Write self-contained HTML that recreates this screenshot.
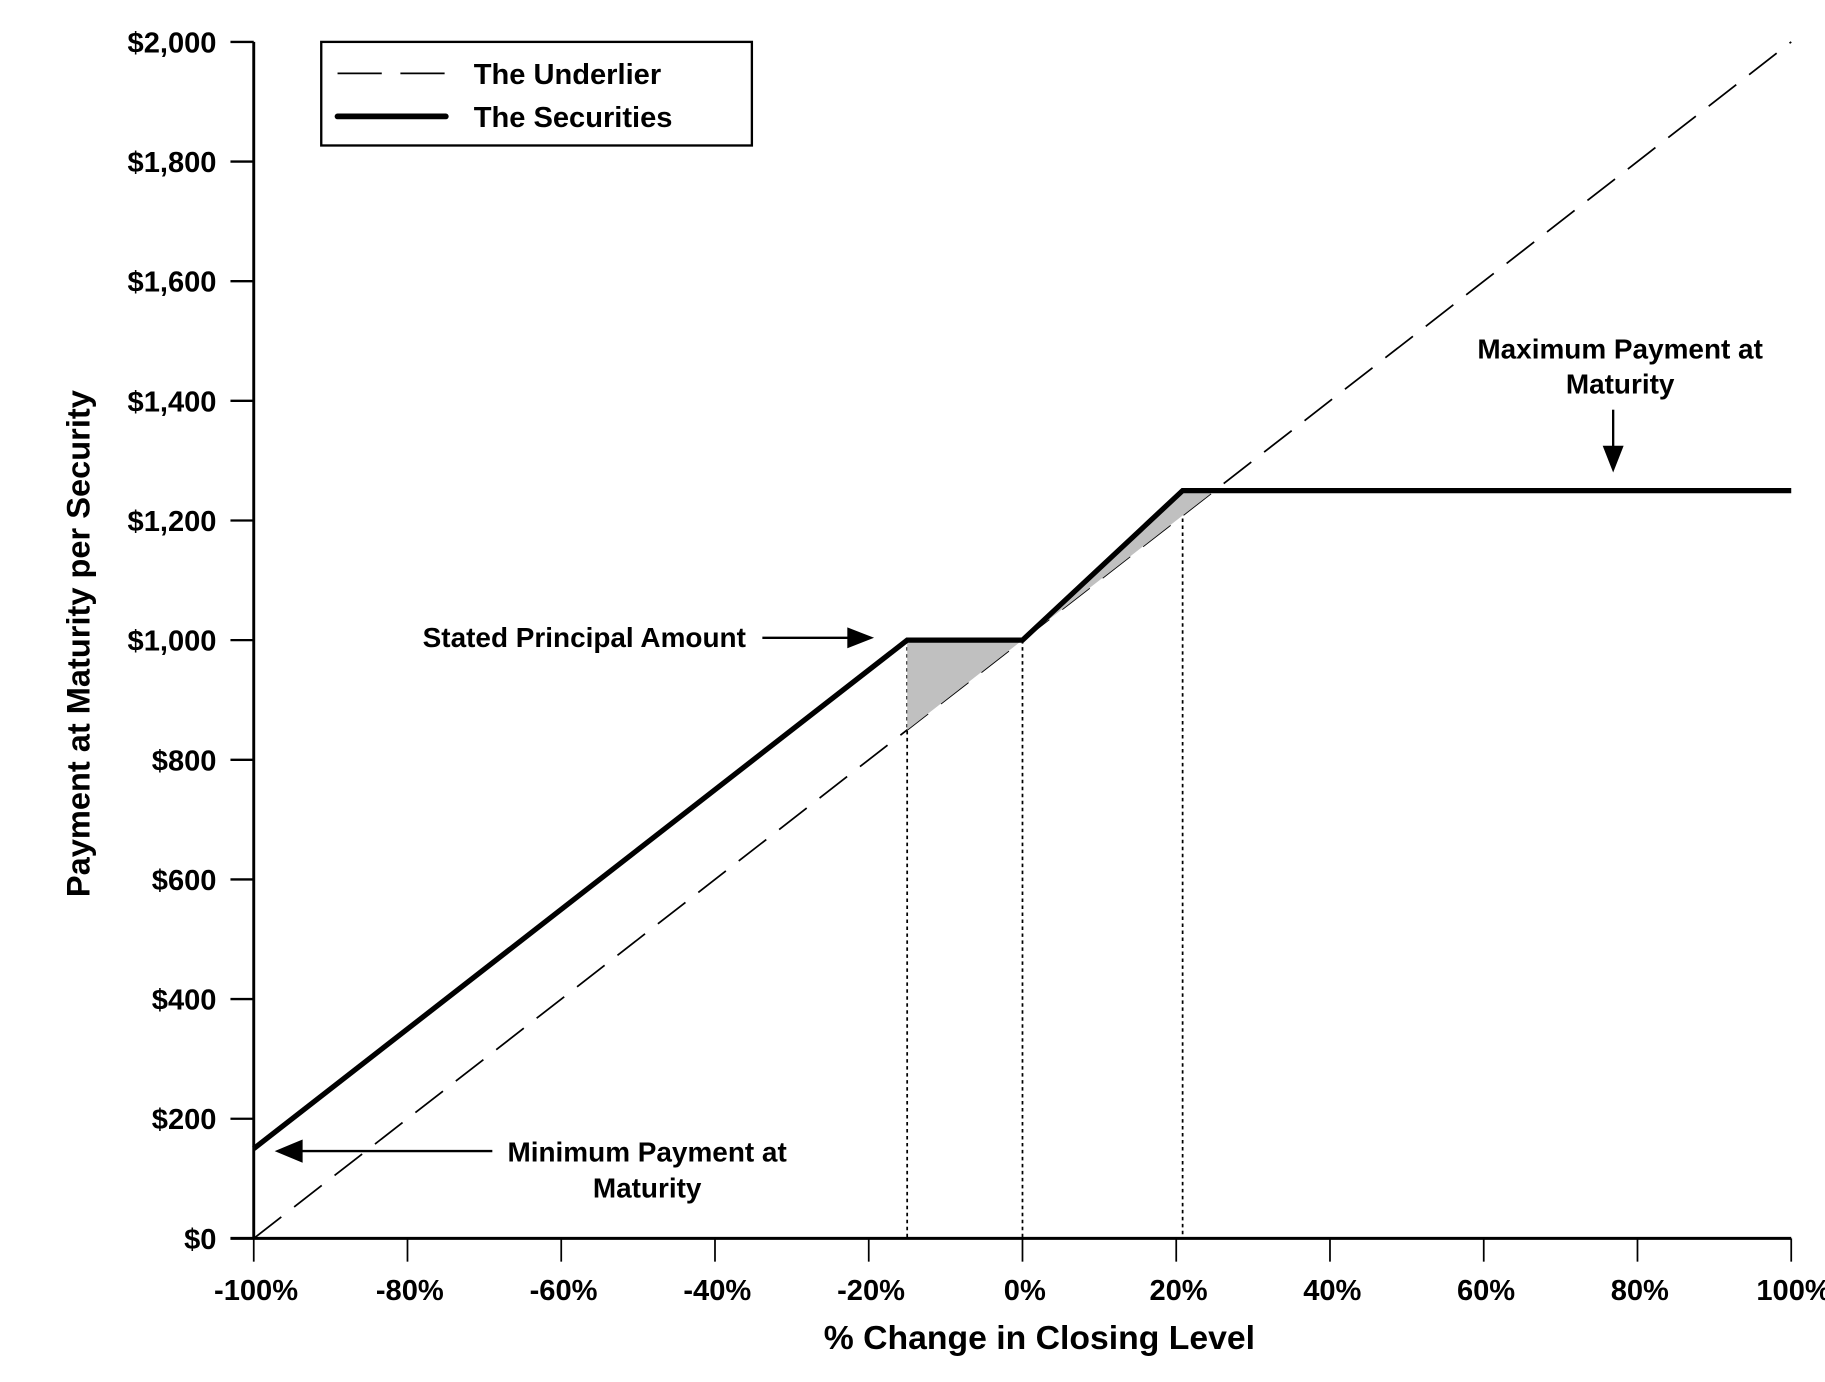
<!DOCTYPE html>
<html><head><meta charset="utf-8"><style>
html,body{margin:0;padding:0;background:#fff}
svg{display:block}
text{font-family:"Liberation Sans Narrow","Liberation Sans",sans-serif;font-weight:bold;fill:#000}
</style></head><body>
<svg id="chart" width="1825" height="1382" viewBox="0 0 1568 1187.4" xmlns="http://www.w3.org/2000/svg">
<g id="shade"></g>
<g id="guides"></g>
<g id="series"></g>
<g id="axes"></g>
<g>
  <rect x="276" y="36" width="370" height="89" fill="#fff" stroke="#000" stroke-width="2"/>
  <line x1="290" y1="63" x2="383" y2="63" stroke="#000" stroke-width="1.5" stroke-dasharray="38,16"/>
  <text x="407" y="72" font-size="25">The Underlier</text>
  <line x1="290" y1="100" x2="383" y2="100" stroke="#000" stroke-width="5" stroke-linecap="round"/>
  <text x="407" y="109" font-size="25">The Securities</text>
</g>
<g>
  <text x="502" y="556" font-size="24" text-anchor="middle">Stated Principal Amount</text>
  <line x1="655" y1="548" x2="730" y2="548" stroke="#000" stroke-width="2"/>
  <polygon points="728,539 751,548 728,557" fill="#000"/>
  <text x="1392" y="308" font-size="24" text-anchor="middle">Maximum Payment at</text>
  <text x="1392" y="338" font-size="24" text-anchor="middle">Maturity</text>
  <line x1="1386" y1="352" x2="1386" y2="385" stroke="#000" stroke-width="2"/>
  <polygon points="1377,383 1386,406 1395,383" fill="#000"/>
  <text x="556" y="998" font-size="24" text-anchor="middle">Minimum Payment at</text>
  <text x="556" y="1029" font-size="24" text-anchor="middle">Maturity</text>
  <line x1="423" y1="989" x2="258" y2="989" stroke="#000" stroke-width="2"/>
  <polygon points="260,979 236,989 260,999" fill="#000"/>
</g>
<text x="893" y="1159" font-size="29" text-anchor="middle">% Change in Closing Level</text>
<text transform="translate(77,553) rotate(-90)" font-size="28" text-anchor="middle">Payment at Maturity per Security</text>
</svg>
<script>
const xTicks = [-100,-80,-60,-40,-20,0,20,40,60,80,100];
const xTickLabels = ["-100%","-80%","-60%","-40%","-20%","0%","20%","40%","60%","80%","100%"];
const yTicks = [0,200,400,600,800,1000,1200,1400,1600,1800,2000];
const yTickLabels = ["$0","$200","$400","$600","$800","$1,000","$1,200","$1,400","$1,600","$1,800","$2,000"];
const underlierX = [-100,100];
const underlierY = [0,2000];
const securitiesX = [-100,-15,0,20.83,100];
const securitiesY = [150,1000,1000,1250,1250];
const guideX = [-15,0,20.83];
const guideY = [1000,1000,1250];
const shadeDownX = [-15,0,-15];
const shadeDownY = [1000,1000,850];
const shadeUpX = [0,20.83,25];
const shadeUpY = [1000,1250,1250];

const NS="http://www.w3.org/2000/svg";
const X0=218,X1=1539,Y0=1064,Y1=36;
function sx(v){return X0+(v+100)/200*(X1-X0);}
function sy(v){return Y0-v/2000*(Y0-Y1);}
function mk(tag,attrs,parent){const e=document.createElementNS(NS,tag);for(const k in attrs)e.setAttribute(k,attrs[k]);parent.appendChild(e);return e;}
const shade=document.getElementById('shade'),guides=document.getElementById('guides'),series=document.getElementById('series'),axes=document.getElementById('axes');

let ul=mk('polyline',{points:underlierX.map((x,i)=>sx(x)+','+sy(underlierY[i])).join(' '),fill:'none',stroke:'#000','stroke-width':1.5,'stroke-dasharray':'30,14'},series);



let s1=mk('polygon',{points:shadeDownX.map((x,i)=>sx(x)+','+sy(shadeDownY[i])).join(' '),fill:'#c0c0c0'},series);


let s2=mk('polygon',{points:shadeUpX.map((x,i)=>sx(x)+','+sy(shadeUpY[i])).join(' '),fill:'#c0c0c0'},series);



guideX.forEach((g,i)=>{
  const l=mk('line',{x1:sx(g),x2:sx(g),y1:sy(guideY[i]),y2:Y0,stroke:'#000','stroke-width':1.5,'stroke-dasharray':'3,3'},guides);
  
  
});

let sl=mk('polyline',{points:securitiesX.map((x,i)=>sx(x)+','+sy(securitiesY[i])).join(' '),fill:'none',stroke:'#000','stroke-width':4.5,'stroke-linejoin':'miter'},series);



let ya=mk('line',{x1:X0,x2:X0,y1:Y1,y2:Y0,stroke:'#000','stroke-width':2.5},axes);


let xa=mk('line',{x1:X0-20,x2:X1,y1:Y0,y2:Y0,stroke:'#000','stroke-width':2.5},axes);


yTicks.forEach((t,i)=>{
  const l=mk('line',{x1:X0-20,x2:X0,y1:sy(t),y2:sy(t),stroke:'#000','stroke-width':2},axes);
  
  
  const tx=mk('text',{x:186,y:sy(t)+9,'font-size':25,'text-anchor':'end'},axes);
  tx.textContent=yTickLabels[i];
  
  
});
xTicks.forEach((t,i)=>{
  const l=mk('line',{x1:sx(t),x2:sx(t),y1:Y0,y2:Y0+20,stroke:'#000','stroke-width':1.5},axes);
  
  
  const tx=mk('text',{x:sx(t)+2,y:1117,'font-size':25,'text-anchor':'middle'},axes);
  tx.textContent=xTickLabels[i];
  
  
});
</script>
</body></html>
